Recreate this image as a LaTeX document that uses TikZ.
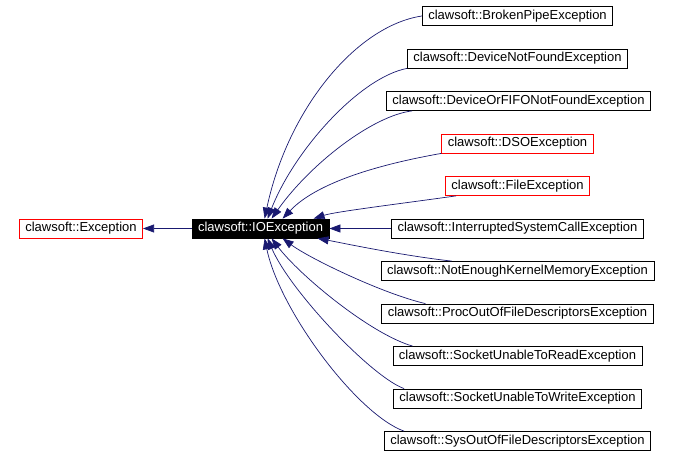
\documentclass[tikz,border=0pt]{standalone}
\usepackage{fontspec}
\setmainfont{Liberation Sans}
\usetikzlibrary{arrows.meta}
\definecolor{edgeblue}{HTML}{191970}

\begin{document}
\begin{tikzpicture}[x=1pt, y=-1pt, font=\fontsize{13}{15}\selectfont]
% Setup the styles for the classes and the edges
\tikzset{class/.style={draw=black,
		line width=0.8pt,
		minimum height=19pt,
		inner xsep=6pt,
		inner ysep=0pt,
		fill=white},
	undoc/.style={class, draw=red},
	focus/.style={class, fill=black, text=white},
	inherit/.style={draw=edgeblue, line width=0.7pt,
		-{Triangle[length=11pt,width=8pt]}}}
\useasboundingbox (0,0) rectangle (673,457);

% Draw the classes
\node[undoc] at (81, 228.5)    (exc)    {clawsoft::Exception};
\node[focus] at (260.5, 228.5) (ioexc)  {clawsoft::IOException};

\node[class] at (517.5, 16)    (broken) {clawsoft::BrokenPipeException};
\node[class] at (517.5, 58.5)  (devnf)  {clawsoft::DeviceNotFoundException};
\node[class] at (518.5, 101)   (fifo)   {clawsoft::DeviceOrFIFONotFoundException};
\node[undoc] at (517.5, 143.5) (dso)    {clawsoft::DSOException};
\node[undoc] at (517.5, 186)   (file)   {clawsoft::FileException};
\node[class] at (517.5, 228.5) (intr)   {clawsoft::InterruptedSystemCallException};
\node[class] at (517.5, 271)   (kmem)   {clawsoft::NotEnoughKernelMemoryException};
\node[class] at (517.5, 313.5) (procfd) {clawsoft::ProcOutOfFileDescriptorsException};
\node[class] at (517.5, 356)   (sread)  {clawsoft::SocketUnableToReadException};
\node[class] at (517.5, 398.5) (swrite) {clawsoft::SocketUnableToWriteException};
\node[class] at (517.5, 441)   (sysfd)  {clawsoft::SysOutOfFileDescriptorsException};

% Connect the classes with inheritance arrows
\draw[inherit] (ioexc.west) -- (exc.east);

\draw[inherit] (broken.west)
  .. controls +(-66,10) and +(23,-109) .. ([xshift=73pt]ioexc.north west);
\draw[inherit] (devnf.south west)
  .. controls +(-47,9) and +(27,-69) .. ([xshift=76pt]ioexc.north west);
\draw[inherit] ([xshift=26pt]fifo.south west)
  .. controls +(-40,5) and +(38,-54) .. ([xshift=80pt]ioexc.north west);
\draw[inherit] (dso.south west)
  .. controls +(-51,9) and +(37,-39) .. ([xshift=91pt]ioexc.north west);
\draw[inherit] ([xshift=11pt]file.south west)
  .. controls +(-57,8) and +(22,-7) .. ([xshift=122pt]ioexc.north west);
\draw[inherit] (intr.west) -- (ioexc.east);
\draw[inherit] ([xshift=71pt]kmem.north west)
  .. controls +(-53,-6) and +(22,4) .. ([xshift=126pt]ioexc.south west);
\draw[inherit] ([xshift=44pt]procfd.north west)
  .. controls +(-43,-10) and +(27,20) .. ([xshift=91pt]ioexc.south west);
\draw[inherit] ([xshift=20pt]sread.north west)
  .. controls +(-42,-12) and +(28,37) .. ([xshift=80pt]ioexc.south west);
\draw[inherit] ([xshift=11pt]swrite.north west)
  .. controls +(-33,-12) and +(22,52) .. ([xshift=76pt]ioexc.south west);
\draw[inherit] ([xshift=20pt]sysfd.north west)
  .. controls +(-47,-17) and +(15,72) .. ([xshift=73pt]ioexc.south west);
\end{tikzpicture}
\end{document}
